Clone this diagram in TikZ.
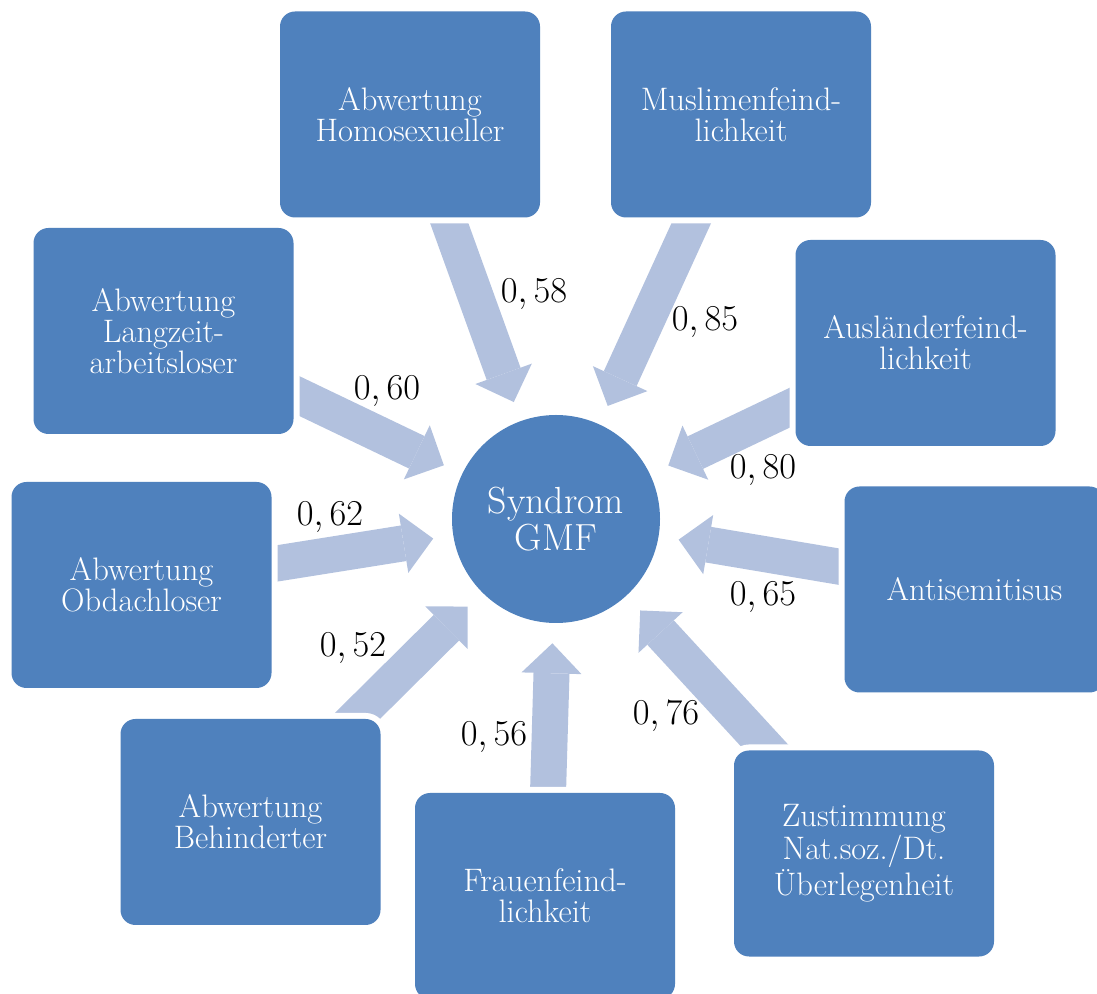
\documentclass[tikz,border=0pt]{standalone}
\usepackage{amsfonts,amssymb,amsmath}
\usepackage{tikz}
\usetikzlibrary{arrows.meta}

\definecolor{boxblue}{RGB}{79,129,189}
\definecolor{arrowblue}{RGB}{178,193,222}
\pgfdeclarelayer{bg}
\pgfsetlayers{bg,main}

\begin{document}
\begin{tikzpicture}[
  box/.style={fill=boxblue, rounded corners=3mm, minimum width=5.2cm,
    minimum height=4.12cm, inner sep=0pt, text=white, align=center,
    font=\fontsize{18.5}{17.6}\selectfont,
    preaction={draw=white, line width=2.4mm}},
  syndrom/.style={circle, fill=boxblue, minimum size=4.16cm, inner sep=0pt,
    text=white, align=center, font=\fontsize{21.5}{21.5}\selectfont},
  wert/.style={font=\fontsize{20}{22}\selectfont},
  pfeil/.style={draw=arrowblue, line width=7.2mm, shorten >=4mm,
    -{Triangle[width=12mm,length=6mm,line width=0pt]}}
]
\useasboundingbox (0,0) rectangle (21.94,19.86);

\node[syndrom] (gmf) at (11.12,9.48) {Syndrom\\GMF};

\node[box] (homo) at (8.20,17.57) {Abwertung\\Homosexueller};
\node[box] (muslim) at (14.82,17.57) {Muslimenfeind-\\lichkeit};
\node[box] (langzeit) at (3.27,13.24) {Abwertung\\Langzeit-\\arbeitsloser};
\node[box] (auslaender) at (18.51,13.00) {Ausländerfeind-\\lichkeit};
\node[box] (obdach) at (2.83,8.16) {Abwertung\\Obdachloser};
\node[box] (antisem) at (19.49,8.07) {Antisemitisus};
\node[box] (behind) at (5.01,3.42) {Abwertung\\Behinderter};
\node[box] (frauen) at (10.90,1.94) {Frauenfeind-\\lichkeit};
\node[box] (zustimm) at (17.28,2.79) {Zustimmung\\Nat.soz./Dt.\\Überlegenheit};

\node[wert] (w58) at (10.68,13.98) {$0,58$};
\node[wert] (w85) at (14.10,13.42) {$0,85$};
\node[wert] (w60) at (7.74,12.04) {$0,60$};
\node[wert] (w80) at (15.26,10.46) {$0,80$};
\node[wert] (w62) at (6.60,9.52) {$0,62$};
\node[wert] (w65) at (15.26,7.92) {$0,65$};
\node[wert] (w52) at (7.06,6.90) {$0,52$};
\node[wert] (w56) at (9.88,5.12) {$0,56$};
\node[wert] (w76) at (13.32,5.54) {$0,76$};

\begin{pgfonlayer}{bg}
\draw[pfeil] (homo.center) -- (gmf);
\draw[pfeil] (muslim.center) -- (gmf);
\draw[pfeil] (langzeit.center) -- (gmf);
\draw[pfeil] (auslaender.center) -- (gmf);
\draw[pfeil] (obdach.center) -- (gmf);
\draw[pfeil] (antisem.center) -- (gmf);
\draw[pfeil] (behind.center) -- (gmf);
\draw[pfeil] (frauen.center) -- (gmf);
\draw[pfeil] (zustimm.center) -- (gmf);
\end{pgfonlayer}
\end{tikzpicture}
\end{document}
